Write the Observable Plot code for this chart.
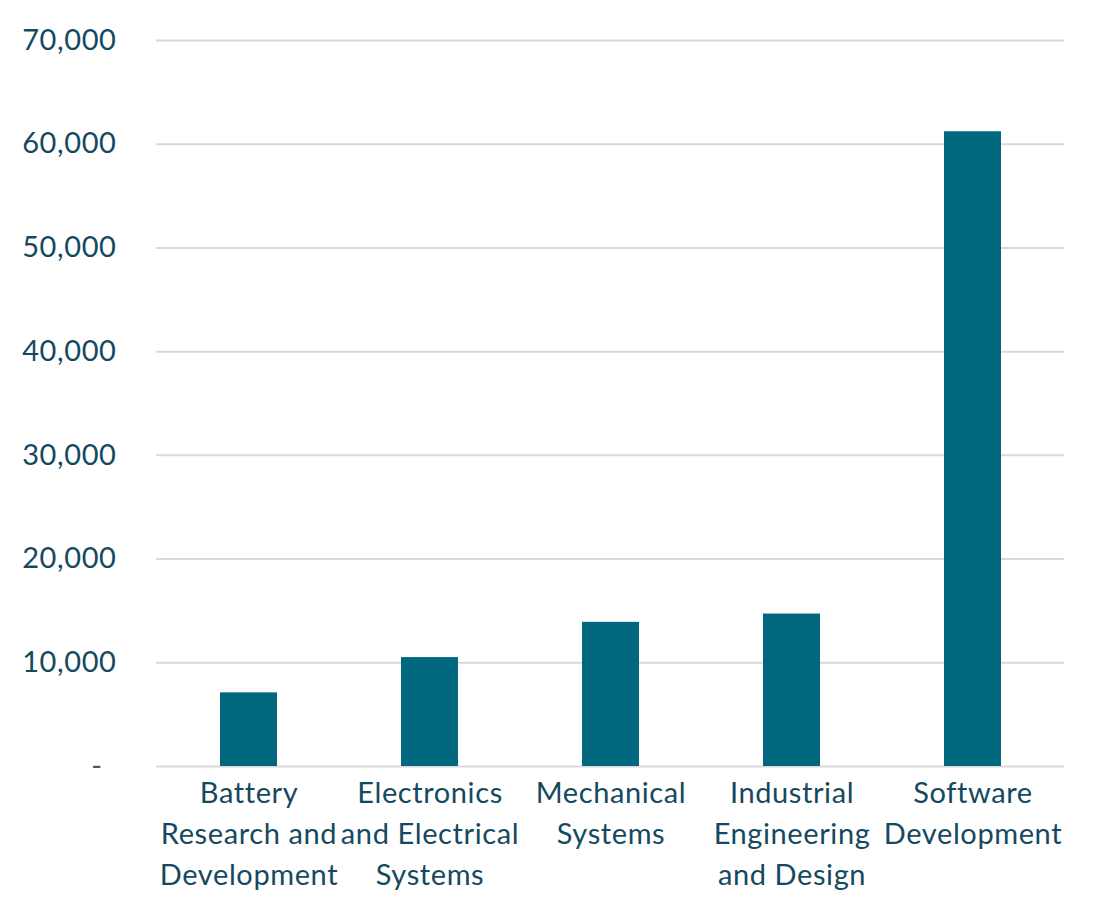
<!DOCTYPE html>
<html>
<head>
<meta charset="utf-8">
<script src="https://cdn.jsdelivr.net/npm/d3@7"></script>
<script src="https://cdn.jsdelivr.net/npm/@observablehq/plot@0.6"></script>
<style>
  html, body { margin: 0; padding: 0; background: #fff; }
  #chart svg { font-family: Lato, "Noto Sans", sans-serif; }
  #chart svg text { letter-spacing: 0.6px; font-weight: 400; }
</style>
</head>
<body>
<div id="chart"></div>
<script>
const categories = [
  "Battery\nResearch and\nDevelopment",
  "Electronics\nand Electrical\nSystems",
  "Mechanical\nSystems",
  "Industrial\nEngineering\nand Design",
  "Software\nDevelopment"
];
const values = [7100, 10500, 13900, 14700, 61200];
const yTicks = [0, 10000, 20000, 30000, 40000, 50000, 60000, 70000];

const data = categories.map((c, i) => ({category: c, value: values[i]}));
const textColor = "#15495f";
const fmt = d3.format(",");

const chart = Plot.plot({
  width: 1094,
  height: 897,
  marginLeft: 156,
  marginRight: 30,
  marginTop: 40,
  marginBottom: 131,
  style: {fontFamily: "Lato, 'Noto Sans', sans-serif", fontSize: "29px", color: textColor, background: "#fff"},
  x: {domain: categories, padding: 0, label: null},
  y: {domain: [0, 70000], label: null},
  marks: [
    Plot.gridY(yTicks, {stroke: "#d9d9d9", strokeOpacity: 1, strokeWidth: 2}),
    Plot.barY(data, {x: "category", y: "value", fill: "#00677f", insetLeft: 62, insetRight: 62}),
    Plot.axisY(yTicks.filter(d => d !== 0), {
      tickSize: 0, tickPadding: 40, label: null,
      tickFormat: d => fmt(d), fill: textColor, fontSize: 29
    }),
    Plot.axisY([0], {
      tickSize: 0, tickPadding: 54, label: null,
      tickFormat: () => "-", fill: "#555", fontSize: 29
    }),
    Plot.axisX({
      tickSize: 0, tickPadding: 8, label: null,
      fill: textColor, fontSize: 29, lineHeight: 1.4,
      textOverflow: null
    })
  ]
});
document.getElementById("chart").appendChild(chart);
</script>
</body>
</html>
